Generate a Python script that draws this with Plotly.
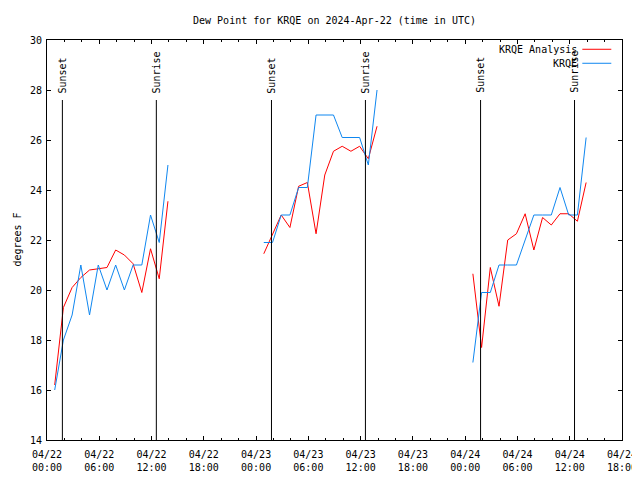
import plotly.graph_objects as go
import pandas as pd

# ---- data ----
seg_starts = ["2024-04-22 00:53", "2024-04-23 00:53", "2024-04-24 00:53"]
krqe_day1 = [16.0, 18.0, 19.0, 21.0, 19.0, 21.0, 20.0, 21.0, 20.0, 21.0, 21.0, 23.0, 21.9, 25.0]
krqe_day2 = [21.9, 21.9, 23.0, 23.0, 24.1, 24.1, 27.0, 27.0, 27.0, 26.1, 26.1, 26.1, 25.0, 28.0]
krqe_day3 = [17.1, 19.9, 19.9, 21.0, 21.0, 21.0, 22.0, 23.0, 23.0, 23.0, 24.1, 23.0, 23.0, 26.1]
analysis_day1 = [16.2, 19.3, 20.1, 20.5, 20.8, 20.85, 20.9, 21.6, 21.4, 21.05, 19.9, 21.65, 20.45, 23.55]
analysis_day2 = [21.45, 22.2, 23.0, 22.5, 24.15, 24.3, 22.25, 24.6, 25.55, 25.75, 25.55, 25.75, 25.25, 26.55]
analysis_day3 = [20.65, 17.7, 20.9, 19.35, 22.0, 22.25, 23.05, 21.6, 22.9, 22.6, 23.05, 23.05, 22.75, 24.3]
sun_times = ["2024-04-22 01:46", "2024-04-22 12:33", "2024-04-23 01:46",
             "2024-04-23 12:33", "2024-04-24 01:46", "2024-04-24 12:33"]
sun_labels = ["Sunset", "Sunrise", "Sunset", "Sunrise", "Sunset", "Sunrise"]
x_range = ["2024-04-22 00:00", "2024-04-24 18:00"]
y_range = [14, 30]

FONT = "DejaVu Sans Mono"
RED = "#ff0000"
BLUE = "#0f87f0"


def build(series):
    xs, ys = [], []
    for start, vals in zip(seg_starts, series):
        t = pd.date_range(start, periods=len(vals), freq="h")
        xs += list(t) + [None]
        ys += list(vals) + [None]
    return xs, ys


ax, ay = build([analysis_day1, analysis_day2, analysis_day3])
kx, ky = build([krqe_day1, krqe_day2, krqe_day3])

fig = go.Figure()
fig.add_trace(go.Scatter(x=ax, y=ay, mode="lines", name="KRQE Analysis",
                         line=dict(color=RED, width=1), connectgaps=False, showlegend=False))
fig.add_trace(go.Scatter(x=kx, y=ky, mode="lines", name="KRQE",
                         line=dict(color=BLUE, width=1), connectgaps=False, showlegend=False))

for t, lab in zip(sun_times, sun_labels):
    fig.add_shape(type="line", xref="x", yref="paper", x0=t, x1=t, y0=0, y1=0.85,
                  line=dict(color="black", width=1))
    fig.add_annotation(x=t, xref="x", y=0.862, yref="paper", text=lab, textangle=-90,
                       showarrow=False, xanchor="center", yanchor="bottom",
                       font=dict(family=FONT, size=10, color="black"))

# legend (gnuplot style: text left of sample)
leg = [("KRQE Analysis", RED, 0.9768), ("KRQE", BLUE, 0.9418)]
for name, col, yy in leg:
    fig.add_annotation(x=0.925, xref="paper", y=yy, yref="paper", text=name, showarrow=False,
                       xanchor="right", yanchor="middle", font=dict(family=FONT, size=10, color="black"))
    fig.add_shape(type="line", xref="paper", yref="paper", x0=0.931, x1=0.9814, y0=yy, y1=yy,
                  line=dict(color=col, width=1))

fig.add_annotation(x=-0.066, xref="paper", y=0.5, yref="paper", text="degrees F", textangle=-90,
                   showarrow=False, xanchor="left", yanchor="middle",
                   font=dict(family=FONT, size=10, color="black"))

fig.update_layout(
    width=632, height=464,
    margin=dict(l=39, r=18, t=32, b=32, autoexpand=False),
    paper_bgcolor="white", plot_bgcolor="white",
    font=dict(family=FONT, size=10, color="black"),
    title=dict(text="Dew Point for KRQE on 2024-Apr-22 (time in UTC)", x=0.5, xref="paper",
               y=1 - 12 / 464, yref="container", yanchor="middle",
               font=dict(family=FONT, size=10, color="black")),
)
fig.update_xaxes(
    type="date", range=x_range, tick0="2024-04-22 00:00", dtick=6 * 3600000,
    tickformat="%m/%d<br>%H:%M", ticks="inside", ticklen=4, tickcolor="black",
    minor=dict(dtick=2 * 3600000, ticks="inside", ticklen=2, tickcolor="black", showgrid=False),
    showline=True, linecolor="black", linewidth=1, mirror="allticks",
    showgrid=False, zeroline=False, tickfont=dict(family=FONT, size=10),
    ticklabelstandoff=5, automargin=False,
)
fig.update_yaxes(
    range=y_range, dtick=2, ticks="inside", ticklen=4, tickcolor="black",
    showline=True, linecolor="black", linewidth=1, mirror="allticks",
    showgrid=False, zeroline=False, tickfont=dict(family=FONT, size=10),
    ticklabelstandoff=2, automargin=False,
)

fig.write_html("out.html")
